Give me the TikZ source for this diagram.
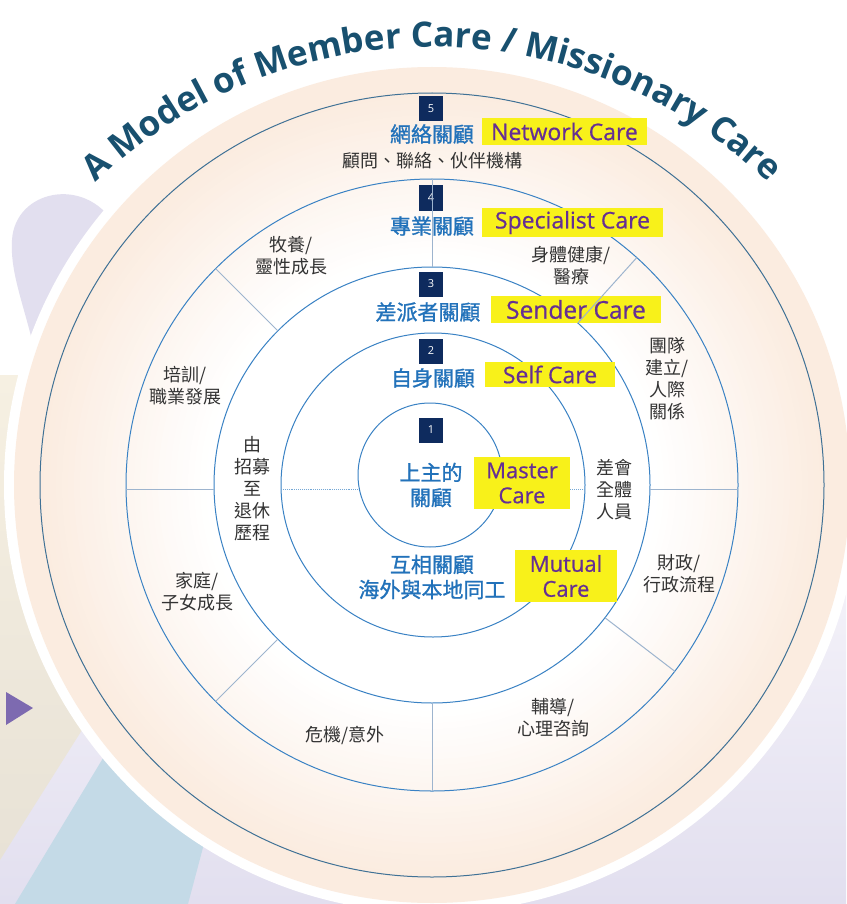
\documentclass[tikz,border=0pt]{standalone}
\usepackage{fontspec}
\setmainfont{Open Sans}
\newfontfamily\cjk{Noto Sans CJK TC}
\newfontfamily\cjkb{Noto Sans CJK TC}[FakeBold=1.2]
\newfontfamily\engf{Open Sans}[FakeBold=0.6]
\usetikzlibrary{decorations.text}

\definecolor{lav}{HTML}{E2DFEF}
\definecolor{lavlight}{HTML}{F0EEF7}
\definecolor{beigetop}{HTML}{F6F0E2}
\definecolor{beige}{HTML}{E8E2D6}
\definecolor{lblue}{HTML}{C4DAE7}
\definecolor{peach}{HTML}{FBECE0}
\definecolor{ringblue}{HTML}{3A82C4}
\definecolor{outerline}{HTML}{3F7195}
\definecolor{divline}{HTML}{9DB4CE}
\definecolor{navy}{HTML}{0E2B5E}
\definecolor{cblue}{HTML}{2272BA}
\definecolor{ylw}{HTML}{F8F11A}
\definecolor{purp}{HTML}{652F94}
\definecolor{ttl}{HTML}{18506F}
\definecolor{txt}{HTML}{333333}
\definecolor{tri}{HTML}{7D6AB0}

\newcommand\ttlfont{\fontsize{35}{35}\selectfont\bfseries\color{ttl}}

\tikzset{
  numbox/.style={fill=navy, text=white, minimum width=24pt, minimum height=25pt, inner sep=0pt, font=\fontsize{11}{11}\selectfont},
  bluelbl/.style={text=cblue, font=\cjkb\fontsize{21}{25}\selectfont, inner sep=0pt, align=center},
  ybox/.style={fill=ylw, text=purp, inner sep=0pt, align=center, font=\engf\fontsize{23}{25}\selectfont},
  blk/.style={text=txt, font=\cjk\fontsize{18}{22}\selectfont, inner sep=0pt, align=center},
  ring/.style={ringblue, line width=1pt},
  divider/.style={divline, line width=1pt},
}

\begin{document}
\begin{tikzpicture}[x=1pt,y=1pt]
\useasboundingbox (0,0) rectangle (846,-904);
% background
\fill[white] (0,0) rectangle (846,-904);
\shade[top color=white, bottom color=lav, middle color=lavlight] (0,-380) rectangle (846,-904);
\shade[top color=beigetop, bottom color=beige] (0,-375) -- (80,-375) -- (200,-700) -- (82,-730) -- (0,-860) -- cycle;
\fill[lblue] (15,-904) -- (120,-730) -- (250,-730) -- (205,-840) -- (188,-904) -- cycle;
\fill[lav] (32,-340) .. controls (22,-300) and (10,-270) .. (12,-240) .. controls (15,-190) and (85,-175) .. (115,-225) -- (80,-340) -- cycle;
\fill[tri] (6,-692) -- (33,-708) -- (6,-725) -- cycle;
% disc
\fill[white] (432,-485) circle (428);
\foreach \r in {418,412,...,226} {
  \pgfmathtruncatemacro\p{min(100,max(0,(\r-228)/165*100))}
  \fill[peach!\p!white] (432,-485) circle (\r);
}
% circles
\draw[outerline, line width=1pt] (432,-485) circle (392);
\draw[ring] (432,-485) circle (306);
\draw[ring] (432,-485) circle (218);
\draw[ring] (433,-485) circle (152);
\draw[ring] (430,-475) circle (72);
% dotted
\draw[ringblue!70, densely dotted, line width=0.9pt] (281,-489) -- (358,-489);
\draw[ringblue!70, densely dotted, line width=0.9pt] (502,-489) -- (585,-489);
% title
\path[decorate, decoration={text along path, text align=center,
  text={|\ttlfont|A Model of Member Care / Missionary Care}}]
  (432,-530) ++(140:483) arc[start angle=140, end angle=40, radius=483];
% number boxes
\node[numbox] (n5) at (431,-109) {5};
\node[numbox] (n4) at (431,-198) {4};
\node[numbox] (n3) at (431,-284) {3};
\node[numbox] (n2) at (431,-351) {2};
\node[numbox] (n1) at (431,-430) {1};
% blue labels
\node[bluelbl] (b5) at (432,-134) {網絡關顧};
\node[bluelbl] (b4) at (432,-226) {專業關顧};
\node[bluelbl] (b3) at (428,-312) {差派者關顧};
\node[bluelbl] (b2) at (433,-378) {自身關顧};
\node[bluelbl] (b1) at (431,-485) {上主的\\關顧};
\node[bluelbl] (bm) at (432,-577) {互相關顧\\海外與本地同工};
% yellow boxes
\node[ybox, minimum width=165pt, minimum height=27pt] (y5) at (564.5,-131.5) {Network Care};
\node[ybox, minimum width=181pt, minimum height=29pt] (y4) at (572.5,-222.5) {Specialist Care};
\node[ybox, minimum width=170pt, minimum height=27pt, font=\engf\fontsize{24.5}{26}\selectfont] (y3) at (576,-309.5) {Sender Care};
\node[ybox, minimum width=130pt, minimum height=25pt] (y2) at (550,-374.5) {Self Care};
\node[ybox, minimum width=96pt, minimum height=52pt, font=\engf\fontsize{22}{25}\selectfont] (y1) at (522,-483) {Master\\Care};
\node[ybox, minimum width=102pt, minimum height=52pt, font=\engf\fontsize{22}{25}\selectfont] (ym) at (566,-576) {Mutual\\Care};
% dividers
\begin{scope}[shift={(432,-485)}]
  \draw[divider] (90:218) -- (90:306);
  \draw[divider] (48:218) -- (48:306);
  \draw[divider] (-37.5:218) -- (-37.5:306);
  \draw[divider] (-90:218) -- (-90:306);
  \draw[divider] (225:218) -- (225:306);
  \draw[divider] (135:218) -- (135:306);
\end{scope}
\draw[divider] (126,-489) -- (214,-489);
\draw[divider] (650,-489) -- (738,-489);
% black labels
\node[blk] (t5) at (432,-161) {顧問、聯絡、伙伴機構};
\node[blk] (t1) at (291,-256) {牧養/\\靈性成長};
\node[blk] (t2) at (571,-266) {身體健康/\\醫療};
\node[blk] (t3) at (667,-379) {團隊\\建立/\\人際\\關係};
\node[blk] (t4) at (185,-386) {培訓/\\職業發展};
\node[blk] (t6) at (252,-489) {由\\招募\\至\\退休\\歷程};
\node[blk] (t7) at (614,-490) {差會\\全體\\人員};
\node[blk] (t8) at (197,-592) {家庭/\\子女成長};
\node[blk] (t9) at (679,-574) {財政/\\行政流程};
\node[blk] (t10) at (345,-735) {危機/意外};
\node[blk] (t11) at (553,-718) {輔導/\\心理咨詢};
\end{tikzpicture}
\end{document}
